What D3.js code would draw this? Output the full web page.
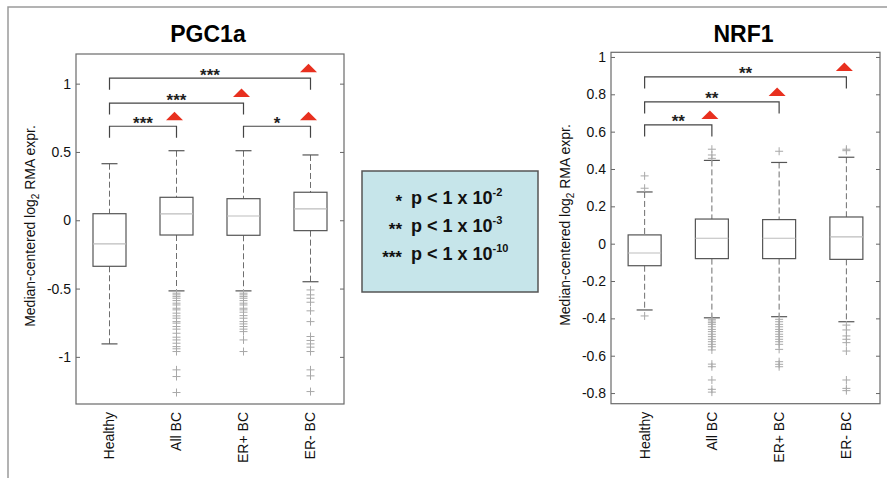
<!DOCTYPE html>
<html>
<head>
<meta charset="utf-8">
<script src="https://cdn.jsdelivr.net/npm/d3@7"></script>
<style>
  body { margin: 0; background: #fff; }
  svg { display: block; font-family: "Liberation Sans", Arial, sans-serif; }
</style>
</head>
<body>
<div id="chart"></div>
<script>

// Set dimensions for the whole figure
const width = 887;
const height = 478;

// groups on the x axis
const groups = ["Healthy", "All BC", "ER+ BC", "ER- BC"];

// PGC1a box stats
const pgcLo  = [-0.905, -0.517, -0.517, -0.450];
const pgcQ1  = [-0.337, -0.108, -0.110, -0.076];
const pgcMed = [-0.173,  0.046,  0.031,  0.083];
const pgcQ3  = [ 0.048,  0.168,  0.158,  0.205];
const pgcHi  = [ 0.414,  0.509,  0.509,  0.478];
const pgcOut = [
  [],
  [-0.534, -0.546, -0.559, -0.571, -0.588, -0.607, -0.620, -0.644, -0.656, -0.680,
   -0.700, -0.717, -0.742, -0.753, -0.778, -0.797, -0.827, -0.856, -0.876, -0.900,
   -0.925, -0.941, -0.961, -1.095, -1.144, -1.261],
  [-0.534, -0.546, -0.559, -0.571, -0.588, -0.607, -0.620, -0.644, -0.656, -0.673,
   -0.698, -0.717, -0.742, -0.759, -0.778, -0.797, -0.815, -0.876, -0.961],
  [-0.510, -0.546, -0.571, -0.600, -0.663, -0.742, -0.851, -0.880, -0.905, -0.929,
   -0.961, -1.095, -1.139, -1.254]
];
const pgcTicks = [-1, -0.5, 0, 0.5, 1];

// NRF1 box stats
const nrfLo  = [-0.355, -0.397, -0.391, -0.418];
const nrfQ1  = [-0.118, -0.080, -0.080, -0.084];
const nrfMed = [-0.050,  0.029,  0.029,  0.036];
const nrfQ3  = [ 0.047,  0.132,  0.129,  0.143];
const nrfHi  = [ 0.277,  0.446,  0.435,  0.463];
const nrfOut = [
  [0.363, 0.297, -0.387],
  [0.506, 0.475, 0.457,
   -0.405, -0.414, -0.423, -0.432, -0.445, -0.459, -0.471, -0.485, -0.498, -0.512,
   -0.525, -0.539, -0.552, -0.569, -0.645, -0.659, -0.730, -0.780, -0.795],
  [0.495,
   -0.405, -0.418, -0.432, -0.445, -0.459, -0.471, -0.485, -0.498, -0.512, -0.525,
   -0.539, -0.566, -0.632, -0.646, -0.659],
  [0.506, 0.498,
   -0.436, -0.462, -0.494, -0.512, -0.530, -0.575, -0.730, -0.775, -0.787]
];
const nrfTicks = [-0.8, -0.6, -0.4, -0.2, 0, 0.2, 0.4, 0.6, 0.8, 1];

// significance brackets: [from group, to group, y value, stars]
const pgcBrackets = [
  ["Healthy", "All BC", 0.688, "***"],
  ["Healthy", "ER+ BC", 0.858, "***"],
  ["Healthy", "ER- BC", 1.040, "***"],
  ["ER+ BC", "ER- BC", 0.688, "*"]
];
const nrfBrackets = [
  ["Healthy", "All BC", 0.636, "**"],
  ["Healthy", "ER+ BC", 0.759, "**"],
  ["Healthy", "ER- BC", 0.893, "**"]
];

// legend rows
const legendStars = ["*", "**", "***"];
const legendExp = ["-2", "-3", "-10"];

const svg = d3.select("#chart")
  .append("svg")
  .attr("width", width)
  .attr("height", height);

// outer frame (only top and left edges show)
svg.append("path")
  .attr("d", `M8,${height}V7H${width}`)
  .attr("fill", "none")
  .attr("stroke", "#9a9a9a")
  .attr("stroke-width", 1.5);

function drawPanel(p) {
  const g = svg.append("g");

  const y = d3.scaleLinear().domain(p.yDomain).range([p.bottom, p.top]);
  const x = d3.scalePoint().domain(groups).range([p.left, p.right]).padding(0.5);
  const bw = 33;

  // title
  g.append("text")
    .attr("x", (p.left + p.right) / 2 - 2)
    .attr("y", 42)
    .attr("text-anchor", "middle")
    .attr("font-size", "23px")
    .attr("font-weight", "bold")
    .text(p.title);

  // left axis with labels, ticks inside
  g.append("g")
    .attr("transform", `translate(${p.left},0)`)
    .call(d3.axisLeft(y).tickValues(p.ticks).tickSize(-4).tickPadding(5).tickFormat(d => String(d)))
    .call(a => a.select(".domain").remove())
    .call(a => a.selectAll("line").attr("stroke", "#666"))
    .call(a => a.selectAll("text").attr("font-size", "14px").attr("fill", "#111")
      .attr("font-family", "'Liberation Sans', Arial, sans-serif"));

  // right axis ticks only
  g.append("g")
    .attr("transform", `translate(${p.right},0)`)
    .call(d3.axisRight(y).tickValues(p.ticks).tickSize(-4).tickFormat(""))
    .call(a => a.select(".domain").remove())
    .call(a => a.selectAll("line").attr("stroke", "#666"));

  // plot box
  g.append("rect")
    .attr("x", p.left)
    .attr("y", p.top)
    .attr("width", p.right - p.left)
    .attr("height", p.bottom - p.top)
    .attr("fill", "none")
    .attr("stroke", "#6a6a6a")
    .attr("stroke-width", 1.2);

  // y label with log2 subscript
  const yl = g.append("text")
    .attr("transform", `translate(${p.ylabelX},${(p.top + p.bottom) / 2 - 3}) rotate(-90)`)
    .attr("text-anchor", "middle")
    .attr("font-size", "14px")
    .attr("fill", "#111");
  yl.append("tspan").text("Median-centered log");
  yl.append("tspan").attr("font-size", "10px").attr("dy", "4").text("2");
  yl.append("tspan").attr("dy", "-4").text(" RMA expr.");

  // x tick labels, rotated
  g.selectAll(".xlab")
    .data(groups)
    .enter()
    .append("text")
      .attr("class", "xlab")
      .attr("transform", d => `translate(${x(d)},${p.bottom + 8}) rotate(-90)`)
      .attr("dy", "0.35em")
      .attr("text-anchor", "end")
      .attr("font-size", "14px")
      .attr("fill", "#111")
      .text(d => d);

  // whiskers (dashed)
  groups.forEach((name, i) => {
    const cx = x(name);
    g.append("line")
      .attr("x1", cx).attr("x2", cx)
      .attr("y1", y(p.hi[i])).attr("y2", y(p.q3[i]))
      .attr("stroke", "#6e6e6e").attr("stroke-dasharray", "6,3");
    g.append("line")
      .attr("x1", cx).attr("x2", cx)
      .attr("y1", y(p.q1[i])).attr("y2", y(p.lo[i]))
      .attr("stroke", "#6e6e6e").attr("stroke-dasharray", "6,3");
    // caps
    [p.hi[i], p.lo[i]].forEach(v => {
      g.append("line")
        .attr("x1", cx - 8).attr("x2", cx + 8)
        .attr("y1", y(v)).attr("y2", y(v))
        .attr("stroke", "#555").attr("stroke-width", 1.2);
    });
    // box
    g.append("rect")
      .attr("x", cx - bw / 2)
      .attr("y", y(p.q3[i]))
      .attr("width", bw)
      .attr("height", y(p.q1[i]) - y(p.q3[i]))
      .attr("fill", "none")
      .attr("stroke", "#555")
      .attr("stroke-width", 1.2);
    // median
    g.append("line")
      .attr("x1", cx - bw / 2).attr("x2", cx + bw / 2)
      .attr("y1", y(p.med[i])).attr("y2", y(p.med[i]))
      .attr("stroke", "#bdbdbd").attr("stroke-width", 1.2);
    // outliers as "+"
    g.selectAll(null)
      .data(p.out[i])
      .enter()
      .append("path")
        .attr("d", v => `M${cx - 4},${y(v)}H${cx + 4}M${cx},${y(v) - 4}V${y(v) + 4}`)
        .attr("stroke", "#a8a8a8")
        .attr("fill", "none");
  });

  // significance brackets
  const leg = 11.5;
  p.brackets.forEach(b => {
    const x1 = x(b[0]), x2 = x(b[1]), by = y(b[2]);
    g.append("path")
      .attr("d", `M${x1},${by + leg}V${by}H${x2}V${by + leg}`)
      .attr("fill", "none")
      .attr("stroke", "#444")
      .attr("stroke-width", 1.2);
    g.append("text")
      .attr("x", (x1 + x2) / 2)
      .attr("y", by + 2.5)
      .attr("text-anchor", "middle")
      .attr("font-size", "17px")
      .attr("font-weight", "bold")
      .attr("fill", "#222")
      .text(b[3]);
    // red triangle above the right end
    const tx = x2 - 2, tb = by - 6;
    g.append("path")
      .attr("d", `M${tx - 8.5},${tb}L${tx + 8.5},${tb}L${tx},${tb - 8.5}Z`)
      .attr("fill", "#e8301f");
  });
}

drawPanel({
  title: "PGC1a",
  left: 76, right: 344, top: 54, bottom: 404,
  yDomain: [-1.345, 1.217], ticks: pgcTicks, ylabelX: 35,
  lo: pgcLo, q1: pgcQ1, med: pgcMed, q3: pgcQ3, hi: pgcHi, out: pgcOut,
  brackets: pgcBrackets
});

drawPanel({
  title: "NRF1",
  left: 611, right: 880, top: 52.3, bottom: 403.7,
  yDomain: [-0.857, 1.025], ticks: nrfTicks, ylabelX: 570,
  lo: nrfLo, q1: nrfQ1, med: nrfMed, q3: nrfQ3, hi: nrfHi, out: nrfOut,
  brackets: nrfBrackets
});

// legend box
svg.append("rect")
  .attr("x", 362)
  .attr("y", 171)
  .attr("width", 176)
  .attr("height", 121)
  .attr("fill", "#c6e5ea")
  .attr("stroke", "#555")
  .attr("stroke-width", 1.5);

legendStars.forEach((s, i) => {
  const base = 203.5 + i * 28;
  svg.append("text")
    .attr("x", 402)
    .attr("y", base + 3)
    .attr("text-anchor", "end")
    .attr("font-size", "17px")
    .attr("font-weight", "bold")
    .attr("fill", "#111")
    .text(s);
  const t = svg.append("text")
    .attr("x", 411)
    .attr("y", base)
    .attr("font-size", "18px")
    .attr("font-weight", "bold")
    .attr("fill", "#111");
  t.append("tspan").text("p < 1 x 10");
  t.append("tspan").attr("font-size", "11px").attr("dy", "-8").text(legendExp[i]);
});

</script>
</body>
</html>
